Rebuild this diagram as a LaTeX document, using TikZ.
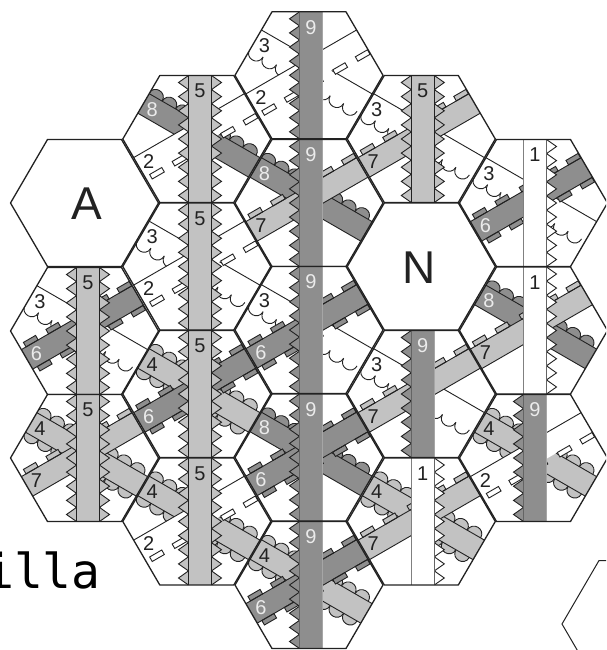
\documentclass[tikz,border=0pt]{standalone}
\usepackage{fontspec}
\setmainfont{Liberation Sans}
\newfontfamily\monofam{DejaVu Sans Mono}
\definecolor{ink}{HTML}{222222}
\definecolor{darkband}{HTML}{8E8E8E}
\definecolor{lightband}{HTML}{C2C2C2}
\tikzset{
  edgeline/.style={draw=ink,line width=0.9pt},
  hexline/.style={draw=ink,line width=1.3pt,line join=round},
  numlabel/.style={font=\fontsize{20}{20}\selectfont,text=ink,inner sep=0pt},
  numwhite/.style={font=\fontsize{20}{20}\selectfont,text=white!92!black,inner sep=0pt},
  digit1/.style={numlabel},digit2/.style={numlabel},digit3/.style={numlabel},
  digit4/.style={numlabel},digit5/.style={numlabel},digit7/.style={numlabel},
  digit6/.style={numwhite},digit8/.style={numwhite},digit9/.style={numwhite},
  biglabel/.style={font=\fontsize{46}{46}\selectfont,text=ink,inner sep=0pt},
}
\newcommand{\hexpath}{(-74,0) -- (-37,-63.5) -- (37,-63.5) -- (74,0) -- (37,63.5) -- (-37,63.5) -- cycle}
% rectangular bumps on one side: #1 fill, #2 sign of side
\newcommand{\rectbumps}[2]{%
  \foreach \c in {-54,-28,0,28,54}{%
    \draw[edgeline,fill=#1] (\c-7,#2*11.3) -- (\c-7,#2*16.5) -- (\c+7,#2*16.5) -- (\c+7,#2*11.3) -- cycle;}}
% scallops on one side
\newcommand{\scallops}[2]{%
  \foreach \s in {-62,-46.5,-31,-15.5,0,15.5,31,46.5}{%
    \draw[edgeline,fill=#1] (\s,#2*11.3) .. controls (\s,#2*21.8) and (\s+15.5,#2*21.8) .. (\s+15.5,#2*11.3);}}
\newcommand{\bandfill}[1]{\fill[#1] (-95,-11.3) rectangle (95,11.3);}
\newcommand{\topline}{\draw[edgeline] (-95,-11.3) -- (95,-11.3);}
\newcommand{\lowline}{\draw[edgeline] (-95,11.3) -- (95,11.3);}
% falling bands (3,4,8)
\newcommand{\fallband}[1]{%
  \begin{scope}[shift={(0,-4.8)},rotate=-30]
    \ifnum#1=3
      \bandfill{white}\scallops{white}{1}\topline
    \fi
    \ifnum#1=4
      \bandfill{lightband}\scallops{lightband}{1}\scallops{lightband}{-1}\topline\lowline
    \fi
    \ifnum#1=8
      \bandfill{darkband}\scallops{darkband}{-1}\topline\lowline
    \fi
  \end{scope}}
% rising bands (2,6,7)
\newcommand{\riseband}[1]{%
  \begin{scope}[shift={(0,-4.8)},rotate=30]
    \ifnum#1=2
      \bandfill{white}\rectbumps{white}{1}\topline
    \fi
    \ifnum#1=6
      \bandfill{darkband}\rectbumps{darkband}{1}\rectbumps{darkband}{-1}\topline\lowline
    \fi
    \ifnum#1=7
      \bandfill{lightband}\rectbumps{lightband}{-1}\topline\lowline
    \fi
  \end{scope}}
\newcommand{\zigpath}[2]{% #1 base x, #2 tip x
  (#1,-63.5) -- (#2,-56.5) -- (#1,-49.4) -- (#2,-42.4) -- (#1,-35.3) -- (#2,-28.2) -- (#1,-21.2) -- (#2,-14.1) -- (#1,-7.1) -- (#2,0) -- (#1,7.1) -- (#2,14.1) -- (#1,21.2) -- (#2,28.2) -- (#1,35.3) -- (#2,42.4) -- (#1,49.4) -- (#2,56.5) -- (#1,63.5)}
% vertical bands (1,5,9); #2 = horizontal offset of band from the hex centre
\newcommand{\vertband}[2]{%
  \pgfmathsetmacro{\xl}{#2-11.5}\pgfmathsetmacro{\xr}{#2+11.5}%
  \pgfmathsetmacro{\tl}{#2-21.5}\pgfmathsetmacro{\tr}{#2+21.5}%
  \ifnum#1=1
    \draw[edgeline,fill=white] \zigpath{\xr}{\tr};
    \fill[white] (\xl,-63.5) rectangle (\xr,63.5);
    \draw[draw=gray,line width=0.9pt] (\xl,-63.5) -- (\xl,63.5);
    \draw[draw=ink!70,line width=0.9pt] (\xr,-63.5) -- (\xr,63.5);
  \fi
  \ifnum#1=5
    \draw[edgeline,fill=lightband] \zigpath{\xl}{\tl};
    \draw[edgeline,fill=lightband] \zigpath{\xr}{\tr};
    \fill[lightband] (\xl,-63.5) rectangle (\xr,63.5);
    \draw[draw=ink,line width=1pt] (\xl,-63.5) -- (\xl,63.5) (\xr,-63.5) -- (\xr,63.5);
  \fi
  \ifnum#1=9
    \draw[edgeline,fill=darkband] \zigpath{\xl}{\tl};
    \fill[darkband] (\xl,-63.5) rectangle (\xr,63.5);
    \draw[draw=ink!70,line width=0.7pt] (\xl,-63.5) -- (\xl,63.5);
    \draw[draw=gray!70,line width=0.7pt] (\xr,-63.5) -- (\xr,63.5);
  \fi}
% one tile: #1 name, #2 cx, #3 cy, #4 band offset, #5 vertical, #6 upper-left, #7 lower-left
\newcommand{\tile}[7]{%
  \begin{scope}[shift={(#2,#3)}]
    \begin{scope}
      \clip \hexpath;
      \fill[white] \hexpath;
      \fallband{#6}
      \riseband{#7}
      \vertband{#5}{#4}
    \end{scope}
    \draw[hexline] \hexpath;
    \node[digit#5] (#1v) at (#4,-48) {#5};
    \node[digit#6] (#1a) at (-44.5,-29.5) {#6};
    \node[digit#7] (#1b) at (-48,22.5) {#7};
  \end{scope}}
\begin{document}
\begin{tikzpicture}[x=1pt,y=-1pt]
\useasboundingbox (0,0) rectangle (606,650);
\fill[white] (0,0) rectangle (606,650);
\begin{scope}
\clip (0,0) rectangle (606,650);
\node[anchor=base west,inner sep=0pt] (word) at (-15,588) {\monofam\fontsize{48}{48}\selectfont illa};
% column 0
\begin{scope}[shift={(84.5,203)}]
  \draw[hexline,fill=white] \hexpath;
  \node[biglabel] (letterA) at (2,1) {A};
\end{scope}
\tile{ta}{84.5}{331}{3.5}{5}{3}{6}
\tile{tb}{84.5}{458}{3.5}{5}{4}{7}
% column 1
\tile{tc}{196.8}{139}{3.2}{5}{8}{2}
\tile{td}{196.8}{266.5}{3.2}{5}{3}{2}
\tile{te}{196.8}{394}{3.2}{5}{4}{6}
\tile{tf}{196.8}{521.5}{3.2}{5}{4}{2}
% column 2
\tile{tg}{309}{75.3}{2}{9}{3}{2}
\tile{th}{309}{203}{2}{9}{8}{7}
\tile{ti}{309}{330}{2}{9}{3}{6}
\tile{tj}{309}{457.5}{2}{9}{8}{6}
\tile{tk}{309}{585}{2}{9}{4}{6}
% column 3
\tile{tl}{421.3}{139}{1.5}{5}{3}{7}
\begin{scope}[shift={(421.3,266.5)}]
  \draw[hexline,fill=white] \hexpath;
  \node[biglabel] (letterN) at (-2,1) {N};
\end{scope}
\tile{tm}{421.3}{394}{1.5}{9}{3}{7}
\tile{tn}{421.3}{521.5}{1.5}{1}{4}{7}
% column 4
\tile{to}{533.5}{203}{1.5}{1}{3}{6}
\tile{tp}{533.5}{330.5}{1.5}{1}{8}{7}
\tile{tq}{533.5}{458}{1.5}{9}{4}{2}
% cut hexagon at the lower right
\begin{scope}[shift={(636,624)}]
  \draw[draw=ink,line width=1pt] \hexpath;
\end{scope}
\end{scope}
\end{tikzpicture}
\end{document}
